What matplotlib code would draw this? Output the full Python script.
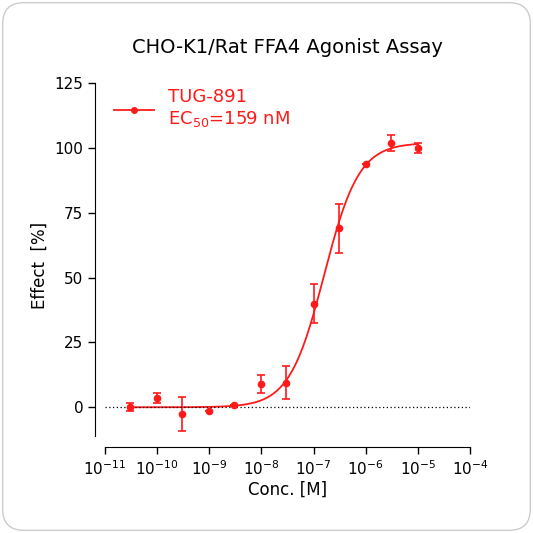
import numpy as np
import matplotlib
matplotlib.use("Agg")
import matplotlib.pyplot as plt
from matplotlib.patches import FancyBboxPatch

conc = [3e-11, 1e-10, 3e-10, 1e-9, 3e-9, 1e-8, 3e-8, 1e-7, 3e-7, 1e-6, 3e-6, 1e-5]
effect = [0, 3.5, -2.5, -1.5, 1, 9, 9.5, 40, 69, 94, 102, 100]
err = [1.5, 2, 6.5, 0, 0, 3.5, 6.5, 7.5, 9.5, 0, 3, 2]
bottom, top, ec50, hill = 0.0, 102.0, 159e-9, 1.3

red = "#ff1a1a"
fig = plt.figure(figsize=(5.33, 5.33), dpi=100)
fig.patches.append(FancyBboxPatch((0.005, 0.005), 0.99, 0.99, boxstyle="round,pad=0,rounding_size=0.04",
                                  transform=fig.transFigure, fc="white", ec="#cccccc", lw=1, zorder=-10))
ax = fig.add_axes([0.197, 0.161, 0.685, 0.683])
ax.patch.set_alpha(0)
xs = np.logspace(np.log10(3e-11), -5, 300)
ys = bottom + (top - bottom) / (1 + (ec50 / xs) ** hill)
ax.plot(xs, ys, color=red, lw=1.3, label="TUG-891\nEC$_{50}$=159 nM", marker="o", ms=4, markevery=[])
ax.errorbar(conc, effect, yerr=err, fmt="o", color=red, ms=4.5, capsize=3, elinewidth=1.2, capthick=1.2)
ax.axhline(0, color="black", ls=(0, (1, 2)), lw=0.9)
ax.set_xscale("log")
ax.set_xlim(1e-11, 1e-4)
ax.set_ylim(-15.4, 125)
ax.set_yticks([0, 25, 50, 75, 100, 125])
ax.set_xticks([10.0 ** k for k in range(-11, -3)])
for s in ["top", "right"]:
    ax.spines[s].set_visible(False)
ax.spines["left"].set_position(("outward", 7))
ax.spines["left"].set_bounds(-11, 125)
ax.tick_params(labelsize=11, width=1, length=5)
ax.tick_params(which="minor", length=3)
ax.set_xlabel("Conc. [M]", fontsize=12, labelpad=2)
ax.set_ylabel("Effect  [%]", fontsize=12)
ax.set_title("CHO-K1/Rat FFA4 Agonist Assay", fontsize=14, pad=22)
leg = ax.legend(loc="upper left", frameon=False, fontsize=13, handlelength=2.2, bbox_to_anchor=(-0.02, 1.03))
for t in leg.get_texts():
    t.set_color(red)
leg.legend_handles[0].set_marker("o")
fig.savefig("out.png", dpi=100)
